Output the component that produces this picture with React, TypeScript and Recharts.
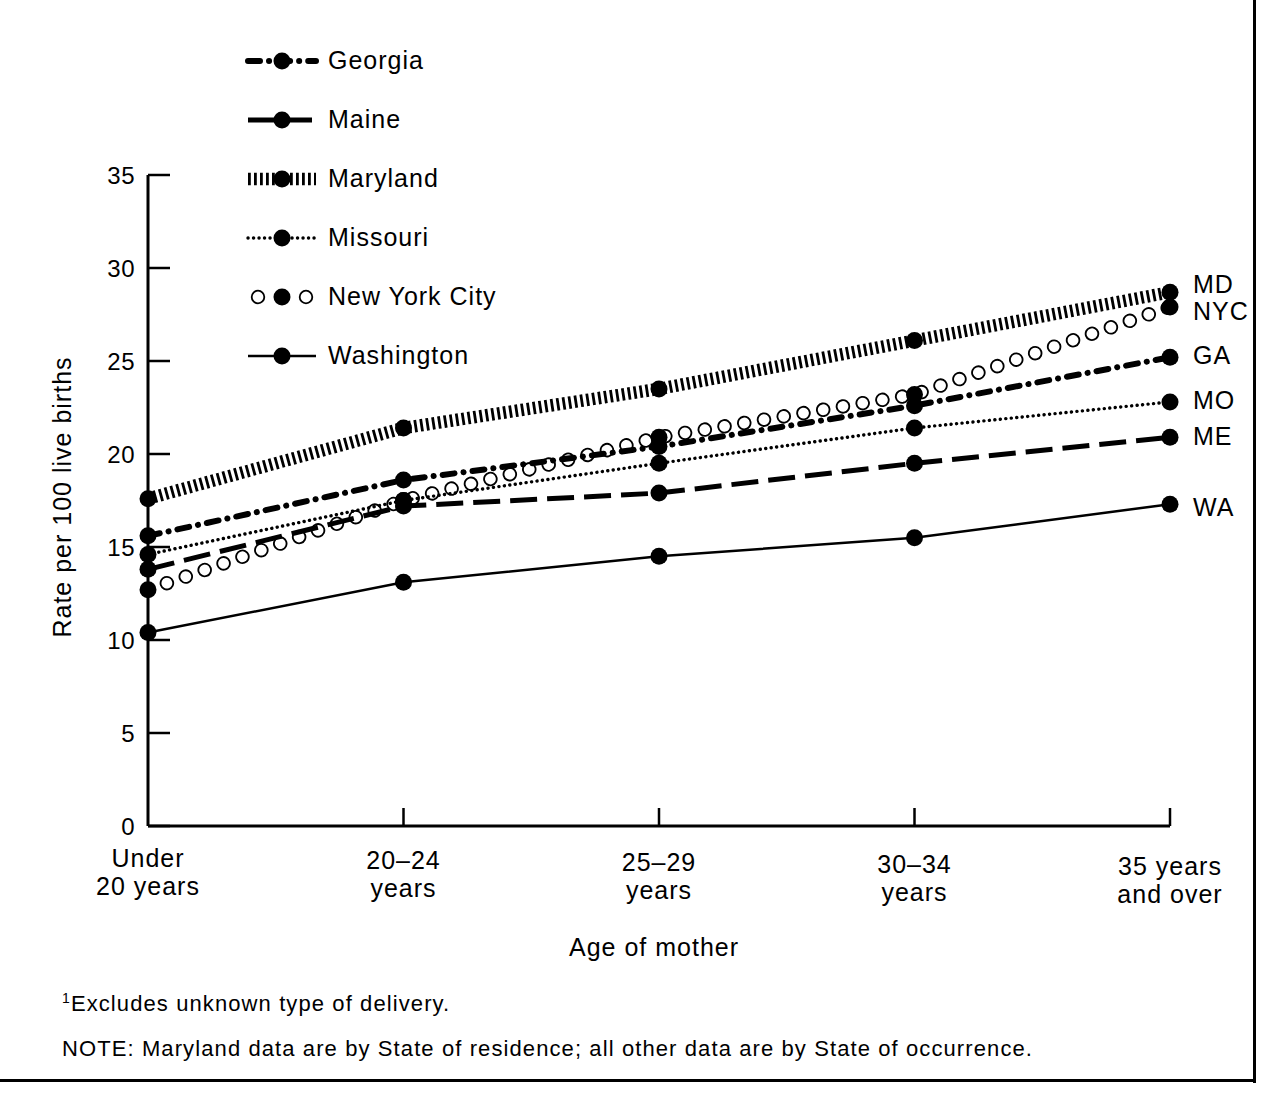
import { LineChart, Line, XAxis, YAxis } from "recharts";

// age groups along the x axis (tick labels split over two lines)
const ageGroups = ["Under 20 years", "20–24 years", "25–29 years", "30–34 years", "35 years and over"];
const ageTickLines = [
    ["Under", "20 years"],
    ["20–24", "years"],
    ["25–29", "years"],
    ["30–34", "years"],
    ["35 years", "and over"],
];
const yTicks = [0, 5, 10, 15, 20, 25, 30, 35];

// rate per 100 live births
const georgia = [15.6, 18.6, 20.4, 22.6, 25.2];
const maine = [13.8, 17.2, 17.9, 19.5, 20.9];
const maryland = [17.6, 21.4, 23.5, 26.1, 28.7];
const missouri = [14.6, 17.5, 19.5, 21.4, 22.8];
const newYorkCity = [12.7, 17.5, 20.9, 23.2, 27.9];
const washington = [10.4, 13.1, 14.5, 15.5, 17.3];

const seriesNames = ["Georgia", "Maine", "Maryland", "Missouri", "New York City", "Washington"];
const endLabels = ["GA", "ME", "MD", "MO", "NYC", "WA"];

const data = ageGroups.map((age, i) => ({
    age,
    Georgia: georgia[i],
    Maine: maine[i],
    Maryland: maryland[i],
    Missouri: missouri[i],
    "New York City": newYorkCity[i],
    Washington: washington[i],
}));

const FONT = '"Liberation Sans", Arial, Helvetica, sans-serif';

// line looks, all black like the printed figure
const styles: Record<string, { width: number; dash?: string; cap?: "round" | "butt"; labelDy: number }> = {
    Georgia: { width: 6, dash: "12 9 0.1 9", cap: "round", labelDy: -2 },
    Maine: { width: 5, dash: "27 10", cap: "butt", labelDy: -1 },
    Maryland: { width: 12.5, dash: "2.8 3.2", cap: "butt", labelDy: -8 },
    Missouri: { width: 3.4, dash: "0.1 5.4", cap: "round", labelDy: -2 },
    "New York City": { width: 14.5, dash: "0.01 20", cap: "round", labelDy: 4 },
    Washington: { width: 2.5, labelDy: 3 },
};

const lastIndex = ageGroups.length - 1;

function endLabel(name: string) {
    const text = endLabels[seriesNames.indexOf(name)];
    return (props: any) => {
        if (props.index !== lastIndex) return null;
        const x = props.x ?? props.viewBox?.x;
        const y = props.y ?? props.viewBox?.y;
        return (
            <text key={name} x={x + 23} y={y + styles[name].labelDy + 9} fontSize={25} letterSpacing={1} fontFamily={FONT} fill="#000">
                {text}
            </text>
        );
    };
}

const YTick = ({ x, y, payload }: any) => (
    <g>
        <line x1={x} y1={y} x2={x + 22} y2={y} stroke="#000" strokeWidth={2.5} />
        <text x={x - 13} y={y + 9} textAnchor="end" fontSize={24} letterSpacing={0.5} fontFamily={FONT} fill="#000">
            {payload.value}
        </text>
    </g>
);

const XTick = ({ x, y, index }: any) => (
    <g>
        {index > 0 && <line x1={x} y1={y} x2={x} y2={y - 18} stroke="#000" strokeWidth={2.5} />}
        <text textAnchor="middle" fontSize={25} letterSpacing={1} fontFamily={FONT} fill="#000">
            {ageTickLines[index].map((t, i) => (
                <tspan key={i} x={x} y={y + 41 + index * 2 + i * 28}>
                    {t}
                </tspan>
            ))}
        </text>
    </g>
);

function LegendSample({ name }: { name: string }) {
    const s = styles[name];
    if (name === "New York City") {
        return (
            <svg width={76} height={24}>
                <circle cx={14} cy={12} r={6.3} fill="#fff" stroke="#000" strokeWidth={1.8} />
                <circle cx={38} cy={12} r={8.5} fill="#000" />
                <circle cx={62} cy={12} r={6.3} fill="#fff" stroke="#000" strokeWidth={1.8} />
            </svg>
        );
    }
    return (
        <svg width={76} height={24}>
            <line x1={4} y1={12} x2={72} y2={12} stroke="#000" strokeWidth={s.width} strokeDasharray={s.dash} strokeLinecap={s.cap} />
            <circle cx={38} cy={12} r={8.5} fill="#000" />
        </svg>
    );
}

export default function App() {
    const dot = { r: 8.5, fill: "#000", stroke: "none" };
    const nyc = styles["New York City"];
    return (
        <div style={{ position: "relative", width: 1284, height: 1097, background: "#fff", fontFamily: FONT }}>
            <style>{"body{margin:0}"}</style>
            <LineChart width={1284} height={1097} data={data} margin={{ top: 175, right: 114, left: 147, bottom: 270 }}>
                <XAxis
                    dataKey="age"
                    scale="point"
                    padding={{ left: 0, right: 0 }}
                    height={1}
                    tickSize={0}
                    tickMargin={0}
                    interval={0}
                    axisLine={{ stroke: "#000", strokeWidth: 3 }}
                    tick={<XTick />}
                    label={{
                        content: () => (
                            <text x={654} y={956} textAnchor="middle" fontSize={25} letterSpacing={1} fontFamily={FONT} fill="#000">
                                Age of mother
                            </text>
                        ),
                    }}
                />
                <YAxis
                    domain={[0, 35]}
                    ticks={yTicks}
                    width={1}
                    tickSize={0}
                    tickMargin={0}
                    axisLine={{ stroke: "#000", strokeWidth: 3 }}
                    tick={<YTick />}
                    label={{
                        content: () => {
                            const cx = 62;
                            const cy = 497;
                            return (
                                <text x={cx} y={cy} transform={`rotate(-90 ${cx} ${cy})`} textAnchor="middle" dominantBaseline="central" fontSize={25} letterSpacing={1} fontFamily={FONT} fill="#000">
                                    Rate per 100 live births
                                </text>
                            );
                        },
                    }}
                />

                {/* NYC open circles: black round dots with white dots on top make rings */}
                <Line
                    dataKey="New York City"
                    name="New York City"
                    stroke="#000"
                    strokeWidth={nyc.width}
                    strokeDasharray={nyc.dash}
                    strokeLinecap="round"
                    dot={false}
                    activeDot={false}
                    isAnimationActive={false}
                    label={endLabel("New York City")}
                />
                <Line
                    dataKey="New York City"
                    name="nyc-fill"
                    legendType="none"
                    stroke="#fff"
                    strokeWidth={10.8}
                    strokeDasharray={nyc.dash}
                    strokeLinecap="round"
                    dot={dot}
                    activeDot={false}
                    isAnimationActive={false}
                />
                {["Washington", "Maine", "Missouri", "Georgia", "Maryland"].map((name) => {
                    const s = styles[name];
                    return (
                        <Line
                            key={name}
                            dataKey={name}
                            name={name}
                            stroke="#000"
                            strokeWidth={s.width}
                            strokeDasharray={s.dash}
                            strokeLinecap={s.cap}
                            dot={dot}
                            activeDot={false}
                            isAnimationActive={false}
                            label={endLabel(name)}
                        />
                    );
                })}
            </LineChart>

            {/* legend */}
            <div style={{ position: "absolute", left: 244, top: 31 }}>
                {seriesNames.map((name) => (
                    <div key={name} style={{ display: "flex", alignItems: "center", height: 59 }}>
                        <LegendSample name={name} />
                        <span style={{ fontSize: 25, letterSpacing: 1, marginLeft: 8, color: "#000" }}>{name}</span>
                    </div>
                ))}
            </div>

            <div style={{ position: "absolute", left: 62, top: 990, fontSize: 22, letterSpacing: 1.1, color: "#000" }}>
                <sup style={{ fontSize: 14 }}>1</sup>Excludes unknown type of delivery.
            </div>
            <div style={{ position: "absolute", left: 62, top: 1036, fontSize: 22, letterSpacing: 1.1, color: "#000" }}>
                NOTE: Maryland data are by State of residence; all other data are by State of occurrence.
            </div>

            {/* page frame */}
            <div style={{ position: "absolute", left: 1253, top: 0, width: 3, height: 1083, background: "#000" }} />
            <div style={{ position: "absolute", left: 0, top: 1079, width: 1256, height: 3, background: "#000" }} />
        </div>
    );
}
